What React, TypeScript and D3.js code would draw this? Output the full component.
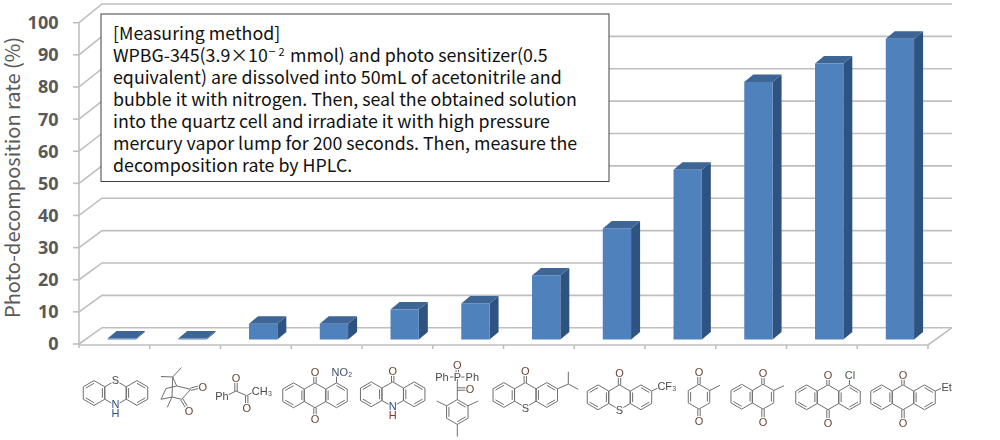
import * as d3 from "d3";
import * as React from "react";

const compounds = [
  "phenothiazine", "camphorquinone", "phenylpropanedione", "nitroanthraquinone",
  "acridone", "TPO", "ITX", "CF3-thioxanthone",
  "methylbenzoquinone", "menadione", "chloroanthraquinone", "ethylanthraquinone",
];
const decomposition = [0.3, 0.3, 4.9, 4.9, 9.3, 11.2, 19.9, 34.5, 52.7, 80, 85.7, 93.4];
const yTicks = [0, 10, 20, 30, 40, 50, 60, 70, 80, 90, 100];
const methodLines = [
  "[Measuring method]",
  "WPBG-345(3.9×10",
  "equivalent) are dissolved into 50mL of acetonitrile and",
  "bubble it with nitrogen. Then, seal the obtained solution",
  "into the quartz cell and irradiate it with high pressure",
  "mercury vapor lump for 200 seconds. Then, measure the",
  "decomposition rate by HPLC.",
];

// structure drawings under the axis: [cx, cy, double edges] rings, plain bonds, C=O style bonds, atom labels
type Ring = [number, number, number[]];
type Seg = [number, number, number, number];
type Atom = [string, number, number, string?];
interface Mol { rings: Ring[]; bonds: Seg[]; doubles: Seg[]; atoms: Atom[]; }

const O = "#6a4436";
const N = "#2f4f86";
const R = 12.4;

const tricyclic = (cx: number, cy: number, mid: number[] = []): Ring[] => [
  [cx - 21.5, cy, [1, 3, 5]],
  [cx, cy, mid],
  [cx + 21.5, cy, [0, 2, 4]],
];

const molecules: Mol[] = [
  {
    rings: tricyclic(115.5, 393),
    bonds: [],
    doubles: [],
    atoms: [["S", 115.5, 380], ["N", 115.5, 404.5, N], ["H", 115.5, 413, N]],
  },
  {
    rings: [],
    bonds: [
      [161, 376.5, 172.7, 377], [172.7, 377, 181.5, 367.5], [172.7, 377, 176.7, 386],
      [172.7, 377, 172, 397], [176.7, 386, 190.7, 389.3], [190.7, 389.3, 181.7, 399.3],
      [181.7, 399.3, 172, 397], [176.7, 386, 166, 388.5], [166, 388.5, 161, 399.3],
      [161, 399.3, 172, 397], [172, 397, 167.3, 407.3],
    ],
    doubles: [[190.7, 389.3, 199, 387], [181.7, 399.3, 186.5, 407]],
    atoms: [["O", 202.7, 386.7, O], ["O", 189, 411, O]],
  },
  {
    rings: [],
    bonds: [[228, 395, 236, 391], [236, 391, 246.7, 395.7], [246.7, 395.7, 254, 391.5]],
    doubles: [[236, 391, 236, 382], [246.7, 395.7, 246.7, 404.5]],
    atoms: [["Ph", 222, 396], ["O", 236, 378.3, O], ["O", 246.7, 408.3, O], ["CH₃", 262, 391]],
  },
  {
    rings: tricyclic(315, 395.3),
    bonds: [[336.5, 382.9, 336.5, 376]],
    doubles: [[315, 382.9, 315, 375.5], [315, 407.7, 315, 415.5]],
    atoms: [["O", 315, 371.7, O], ["O", 315, 419.3, O], ["NO₂", 342, 372, "#3f4f6a"]],
  },
  {
    rings: tricyclic(392.7, 394.3),
    bonds: [],
    doubles: [[392.7, 381.9, 392.7, 374.5]],
    atoms: [["O", 392.7, 370.7, O], ["N", 392.7, 406, N], ["H", 392.7, 415, "#8a3030"]],
  },
  {
    rings: [[457.3, 412, [0, 2, 4]]],
    bonds: [
      [450, 377, 464.5, 377], [457.3, 377, 457.3, 399.6], [446.6, 405.8, 436.7, 401],
      [468, 405.8, 478.3, 401], [457.3, 424.4, 457.3, 436.7],
    ],
    doubles: [[457.3, 373, 457.3, 369], [457.3, 389, 466, 389]],
    atoms: [["Ph", 442, 377], ["P", 457.3, 377], ["Ph", 472.3, 377], ["O", 457.3, 365.3, O], ["O", 470, 389, O]],
  },
  {
    rings: tricyclic(525.3, 395),
    bonds: [[557.5, 388.8, 568.3, 384], [568.3, 384, 568.3, 371.7], [568.3, 384, 578.3, 389.3]],
    doubles: [[525.3, 382.6, 525.3, 375]],
    atoms: [["O", 525.3, 370.7, O], ["S", 525.3, 407.7]],
  },
  {
    rings: tricyclic(619.5, 397.3),
    bonds: [[651.7, 391, 660, 387]],
    doubles: [[619.5, 384.9, 619.5, 377]],
    atoms: [["O", 619.5, 373.3, O], ["S", 619.5, 410], ["CF₃", 667, 386]],
  },
  {
    rings: [[699, 396.7, [1, 4]]],
    bonds: [[709.7, 390.5, 720, 385.3]],
    doubles: [[699, 384.3, 699, 376.5], [699, 409.1, 699, 417.5]],
    atoms: [["O", 699, 372.3, O], ["O", 699, 421.3, O]],
  },
  {
    rings: [[741.7, 396.7, [1, 3, 5]], [763, 396.7, [1]]],
    bonds: [[773.7, 390.5, 784, 385.7]],
    doubles: [[763, 384.3, 763, 377.5], [763, 409.1, 763, 418.5]],
    atoms: [["O", 763, 373.3, O], ["O", 763, 422.3, O]],
  },
  {
    rings: tricyclic(828, 397.3),
    bonds: [[849.5, 384.9, 849.5, 379]],
    doubles: [[828, 384.9, 828, 378.5], [828, 409.7, 828, 419]],
    atoms: [["O", 828, 374.7, O], ["O", 828, 423.3, O], ["Cl", 850, 374.7, "#3f5a3f"]],
  },
  {
    rings: tricyclic(903, 397.3),
    bonds: [[935.2, 391, 941, 388.5]],
    doubles: [[903, 384.9, 903, 378.5], [903, 409.7, 903, 419]],
    atoms: [["O", 903, 374.7, O], ["O", 903, 423.3, O], ["Et", 946.7, 387.3]],
  },
];

const vertex = (cx: number, cy: number, i: number): [number, number] => {
  const a = (Math.PI / 3) * i;
  return [cx + R * Math.sin(a), cy - R * Math.cos(a)];
};

function Molecule({ mol }: { mol: Mol }) {
  const line = d3.line();
  return (
    <g fill="none" stroke="#6e6e6e" strokeWidth={1}>
      {mol.rings.map(([cx, cy, dbl], i) => (
        <g key={i}>
          <path d={line(d3.range(7).map((k) => vertex(cx, cy, k))) as string} />
          {dbl.map((e) => {
            // inner line of a ring double bond, pulled toward the centre
            const [a, b] = [vertex(cx, cy, e), vertex(cx, cy, e + 1)];
            const pull = (p: [number, number], t: number): [number, number] => [
              p[0] + (cx - p[0]) * t,
              p[1] + (cy - p[1]) * t,
            ];
            return <path key={e} d={line([pull(a, 0.22), pull(b, 0.22)]) as string} />;
          })}
        </g>
      ))}
      {mol.bonds.map((b, i) => <line key={i} x1={b[0]} y1={b[1]} x2={b[2]} y2={b[3]} />)}
      {mol.doubles.map((b, i) => {
        const len = Math.hypot(b[2] - b[0], b[3] - b[1]);
        const nx = (-(b[3] - b[1]) / len) * 1.2;
        const ny = ((b[2] - b[0]) / len) * 1.2;
        return (
          <g key={i}>
            <line x1={b[0] + nx} y1={b[1] + ny} x2={b[2] + nx} y2={b[3] + ny} />
            <line x1={b[0] - nx} y1={b[1] - ny} x2={b[2] - nx} y2={b[3] - ny} />
          </g>
        );
      })}
      {mol.atoms.map(([t, x, y, c], i) => (
        <text key={i} x={x} y={y} dy="0.36em" textAnchor="middle" fontFamily="Liberation Sans" fontSize={11}
          fill={c || "#4a4a4a"} stroke="white" strokeWidth={2} paintOrder="stroke">{t}</text>
      ))}
    </g>
  );
}

const FRONT = "#4f81bd";
const TOP = "#3c6596";
const SIDE = "#2f5280";
const GRID = "#bfbfbf";

export default function App() {
  const width = 1000, height = 440;
  const left = 79, right = 928, wallDx = 23;

  const y = d3.scaleLinear().domain([0, 100]).range([344, 22.7]);
  const yBack = d3.scaleLinear().domain([0, 100]).range([327.7, 4]);
  const yBar = d3.scaleLinear().domain([0, 100]).range([339.5, 17.5]);
  const x = d3.scaleBand().domain(compounds).range([left, right]).paddingInner(0.6).paddingOuter(0.3);
  const step = x.step();
  const barShift = 7.3, depthX = 9, depthY = 7.5;

  return (
    <svg width={width} height={height} style={{ position: "absolute", left: 0, top: 0 }}>
      <defs>
        <filter id="soft" x="-2%" y="-2%" width="104%" height="104%">
          <feGaussianBlur stdDeviation="0.45" />
        </filter>
      </defs>
      <rect width={width} height={height} fill="white" />

      <g filter="url(#soft)">
        {/* back wall and side wall */}
        {yTicks.map((t) => (
          <g key={t} stroke={GRID} strokeWidth={1.6} fill="none">
            <path d={`M${left},${y(t)}L${left + wallDx},${yBack(t)}L${right + wallDx + 1},${yBack(t)}`} />
            <line x1={left - 6} x2={left} y1={y(t)} y2={y(t)} />
          </g>
        ))}
        {/* floor and axes */}
        <g stroke={GRID} strokeWidth={1.6} fill="none">
          <line x1={left} x2={left} y1={y(100)} y2={y(0) + 4} />
          <line x1={left} x2={right} y1={y(0) + 1} y2={y(0) + 1} />
          <line x1={right} x2={right + wallDx + 1} y1={y(0) + 1} y2={yBack(0)} />
          {compounds.map((c) => (
            <line key={c} x1={(x(c) as number) - step * 0.3 + step} x2={(x(c) as number) - step * 0.3 + step} y1={y(0) + 1} y2={y(0) + 5} />
          ))}
        </g>

        {/* bars */}
        {compounds.map((c, i) => {
          const x0 = (x(c) as number) + barShift;
          const x1 = x0 + x.bandwidth();
          const top = yBar(decomposition[i]);
          const base = yBar(0);
          return (
            <g key={c}>
              <path fill={SIDE} d={`M${x1},${base}L${x1 + depthX},${base - depthY}L${x1 + depthX},${top - depthY}L${x1},${top}Z`} />
              <path fill={TOP} d={`M${x0},${top}L${x0 + depthX},${top - depthY}L${x1 + depthX},${top - depthY}L${x1},${top}Z`} />
              <rect x={x0} y={top} width={x.bandwidth()} height={base - top} fill={FRONT} />
            </g>
          );
        })}
      </g>

      {/* y tick labels and title */}
      {yTicks.map((t) => (
        <text key={t} x={58.5} y={y(t)} dy="0.36em" textAnchor="end" fontFamily="Open Sans" fontWeight={700} fontSize={18} fill="#595959">{t}</text>
      ))}
      <text transform="translate(20,177.5) rotate(-90)" textAnchor="middle" fontFamily="Noto Sans CJK JP" fontSize={20} fill="#595959">Photo-decomposition rate (%)</text>

      {/* measuring method box */}
      <rect x={101} y={14} width={508} height={167.5} fill="white" stroke="#404040" strokeWidth={1} />
      <g fontFamily="Noto Sans CJK JP" fontSize={17.8} fill="#111">
        {methodLines.map((l, i) => (
          <text key={i} x={113} y={39.5 + i * 22}>
            {l}
            {i === 1 && (
              <>
                <tspan fontSize={12} dy={-6} dx={1}>−</tspan>
                <tspan fontSize={11} dx={3}>2</tspan>
                <tspan dy={6} dx={5.5}>mmol) and photo sensitizer(0.5</tspan>
              </>
            )}
          </text>
        ))}
      </g>

      {/* structures under each bar */}
      <g filter="url(#soft)">
        {molecules.map((m, i) => <Molecule key={compounds[i]} mol={m} />)}
      </g>
    </svg>
  );
}
